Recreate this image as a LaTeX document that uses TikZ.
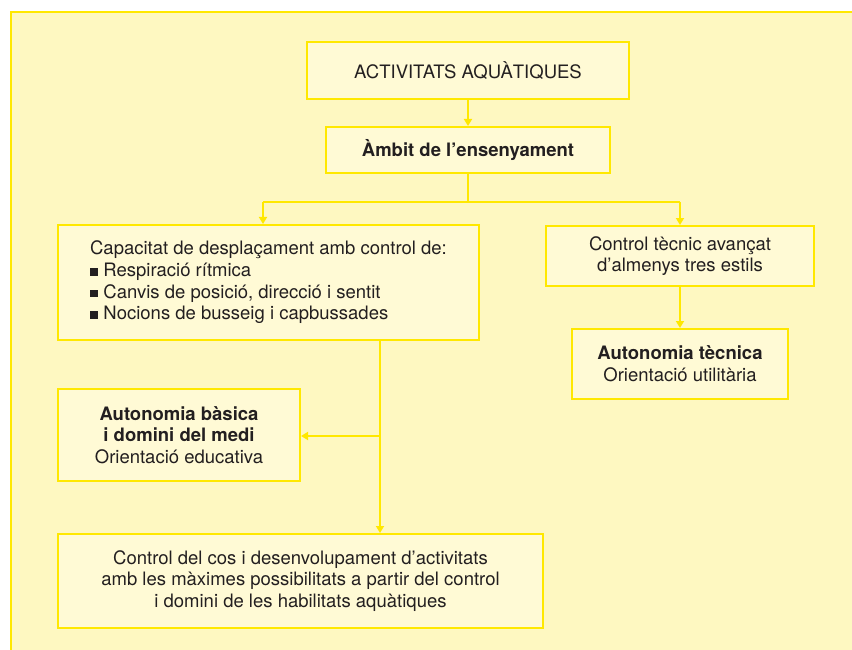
\documentclass[tikz,border=0pt]{standalone}
\usepackage{fontspec}
\setmainfont{TeX Gyre Heros}
\usepackage{xcolor}
\usetikzlibrary{arrows.meta}
\definecolor{PanelYellow}{HTML}{FEF8C1}
\definecolor{BoxYellow}{HTML}{FFFAD5}
\definecolor{LineYellow}{HTML}{FFE800}
\definecolor{TextGray}{HTML}{231F20}
\tikzset{
  boxnode/.style={draw=LineYellow, line width=2pt, fill=BoxYellow, text=TextGray,
    inner sep=0pt, align=center, font=\fontsize{18.5}{21.7}\selectfont},
  linkline/.style={draw=LineYellow, line width=2.2pt},
  linkarrow/.style={linkline, -{Triangle[length=7pt,width=8pt]}}
}
\newcommand{\sqbullet}{\rule[0.05em]{0.42em}{0.42em}\hspace{0.3em}}
\begin{document}
\begin{tikzpicture}[x=1pt,y=1pt,yscale=-1,xscale=1]
		\useasboundingbox (0,0) rectangle (852,650);

		% Draw the background panel
		\draw[draw=LineYellow, line width=2pt, fill=PanelYellow] (11,12) rectangle (870,670);

		% The boxes of the chart
		\node[boxnode, minimum width=322pt, minimum height=57pt] (act) at (468,70.5) {ACTIVITATS AQUÀTIQUES};
		\node[boxnode, minimum width=284pt, minimum height=46pt] (ambit) at (468,150) {\textbf{Àmbit de l’ensenyament}};
		\node[boxnode, minimum width=421pt, minimum height=115pt, align=left] (capac) at (268.5,282.5)
			{Capacitat de desplaçament amb control de:\\
			\sqbullet Respiració rítmica\\
			\sqbullet Canvis de posició, direcció i sentit\\
			\sqbullet Nocions de busseig i capbussades};
		\node[boxnode, minimum width=268pt, minimum height=60pt] (tecnic) at (680,256) {Control tècnic avançat\\d’almenys tres estils};
		\node[boxnode, minimum width=216pt, minimum height=70pt] (autotec) at (680,364) {\textbf{Autonomia tècnica}\\Orientació utilitària};
		\node[boxnode, minimum width=242pt, minimum height=92pt] (autobas) at (179,435) {\textbf{Autonomia bàsica}\\\textbf{i domini del medi}\\Orientació educativa};
		\node[boxnode, minimum width=485pt, minimum height=94pt] (final) at (300.5,581)
			{Control del cos i desenvolupament d’activitats\\amb les màximes possibilitats a partir del control\\i domini de les habilitats aquàtiques};

		% Branch points of the connectors
		\coordinate (split) at (468,202);
		\coordinate (splitL) at (263,202);
		\coordinate (splitR) at (680,202);
		\coordinate (capacout) at (380,340);
		\coordinate (branch) at (380,436);

		% Draw the connectors
		\draw[linkarrow] (act.south) -- (ambit.north);
		\draw[linkline] (ambit.south) -- (split);
		\draw[linkline] (splitL) -- (splitR);
		\draw[linkarrow] (splitL) -- (splitL |- capac.north);
		\draw[linkarrow] (splitR) -- (tecnic.north);
		\draw[linkarrow] (tecnic.south) -- (autotec.north);
		\draw[linkarrow] (capacout) -- (capacout |- final.north);
		\draw[linkarrow] (branch) -- (branch -| autobas.east);
	\end{tikzpicture}
\end{document}
